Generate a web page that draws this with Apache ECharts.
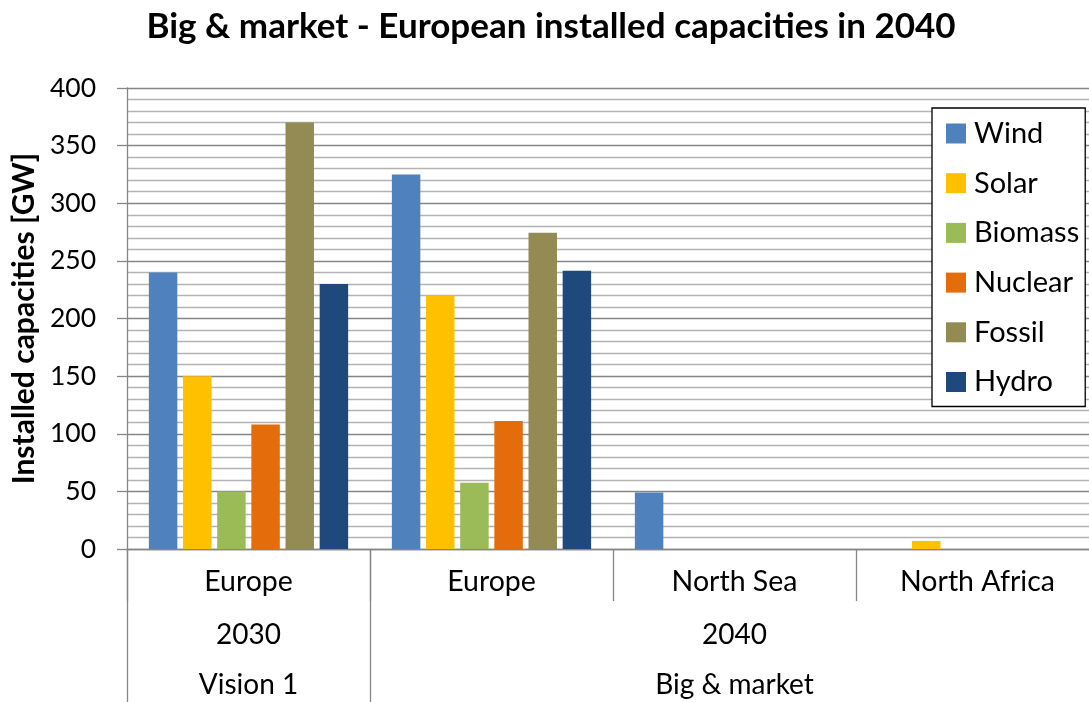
<!DOCTYPE html>
<html>
<head>
<meta charset="utf-8">
<title>Big &amp; market - European installed capacities in 2040</title>
<script src="https://cdn.jsdelivr.net/npm/echarts@6/dist/echarts.min.js"></script>
<style>
  html, body { margin: 0; padding: 0; background: #ffffff; }
  #chart { width: 1089px; height: 702px; }
</style>
</head>
<body>
<div id="chart"></div>
<script>
// Regions on the first category level
const regions = ['Europe', 'Europe', 'North Sea', 'North Africa'];
// Year and scenario levels, written on the first region of each span
const years = ['2030', '', '2040', ''];
const scenarios = ['Vision 1', '', 'Big & market', ''];
// Boundaries (category index) where year/scenario spans start
const spanStarts = [0, 1];

const technologies = ['Wind', 'Solar', 'Biomass', 'Nuclear', 'Fossil', 'Hydro'];
const colors = ['#4F81BD', '#FFC000', '#9BBB59', '#E46C0A', '#948A54', '#1F497D'];

// Installed capacities [GW] per region
const wind    = [240, 325, 49, 0];
const solar   = [150, 220, 0, 7];
const biomass = [50, 57.5, 0, 0];
const nuclear = [108, 111, 0, 0];
const fossil  = [370, 274.5, 0, 0];
const hydro   = [230, 241.5, 0, 0];
const values = [wind, solar, biomass, nuclear, fossil, hydro];

const yTicks = { min: 0, max: 400, interval: 50 };

const FONT = 'Lato, "Open Sans", sans-serif';
const AXIS_GREY = '#868686';

const chart = echarts.init(document.getElementById('chart'), null, { renderer: 'canvas' });

chart.setOption({
  backgroundColor: '#ffffff',
  animation: false,
  title: {
    text: 'Big & market - European installed capacities in 2040',
    left: 551,
    top: 9,
    textAlign: 'center',
    padding: 0,
    textStyle: { fontFamily: FONT, fontSize: 35, fontWeight: 'bold', color: '#000' }
  },
  legend: {
    orient: 'vertical',
    left: 932,
    top: 108,
    width: 156,
    padding: [11, 6, 10, 14],
    itemGap: 20.7,
    itemWidth: 20,
    itemHeight: 20,
    icon: 'rect',
    borderColor: '#000',
    borderWidth: 1.3,
    backgroundColor: '#fff',
    textStyle: { fontFamily: FONT, fontSize: 29, color: '#000', lineHeight: 26, padding: [0, 0, 0, 3] },
    data: technologies
  },
  grid: { left: 127, top: 88, width: 972, height: 461, containLabel: false, outerBoundsMode: 'none' },
  xAxis: [
    {
      type: 'category',
      data: regions,
      position: 'bottom',
      boundaryGap: true,
      axisLine: { show: true, lineStyle: { color: AXIS_GREY, width: 1.3 } },
      axisTick: { show: true, interval: 0, length: 52, lineStyle: { color: AXIS_GREY, width: 1.3 } },
      axisLabel: { interval: 0, margin: 18, fontFamily: FONT, fontSize: 28.5, color: '#000' },
      splitLine: { show: false }
    },
    {
      type: 'category',
      data: regions,
      position: 'bottom',
      offset: 0,
      boundaryGap: true,
      axisLine: { show: false },
      axisTick: {
        show: true,
        length: 153,
        interval: (i) => spanStarts.indexOf(i) !== -1,
        lineStyle: { color: AXIS_GREY, width: 1.3 }
      },
      axisLabel: {
        interval: 0,
        margin: 61,
        fontFamily: FONT,
        fontSize: 28,
        color: '#000',
        lineHeight: 50,
        formatter: (v, i) => years[i] ? years[i] + '\n' + scenarios[i] : ''
      },
      splitLine: { show: false }
    }
  ],
  yAxis: {
    type: 'value',
    min: yTicks.min,
    max: yTicks.max,
    interval: yTicks.interval,
    name: 'Installed capacities [GW]',
    nameLocation: 'middle',
    nameGap: 84,
    nameTextStyle: { fontFamily: FONT, fontSize: 30, fontWeight: 'bold', color: '#000' },
    axisLine: { show: true, lineStyle: { color: AXIS_GREY, width: 1.3 } },
    axisTick: { show: true, length: 10, lineStyle: { color: AXIS_GREY, width: 1.3 } },
    axisLabel: { margin: 31, fontFamily: FONT, fontSize: 26.5, color: '#000' },
    splitLine: { show: true, lineStyle: { color: AXIS_GREY, width: 1.3 } },
    minorTick: { show: false, splitNumber: 5 },
    minorSplitLine: { show: true, lineStyle: { color: '#B3B3B3', width: 1.3 } }
  },
  series: technologies.map((name, k) => ({
    name: name,
    type: 'bar',
    xAxisIndex: 0,
    data: values[k],
    barGap: '20%',
    barCategoryGap: '18%',
    itemStyle: { color: colors[k] },
    emphasis: { disabled: true }
  }))
});
</script>
</body>
</html>
